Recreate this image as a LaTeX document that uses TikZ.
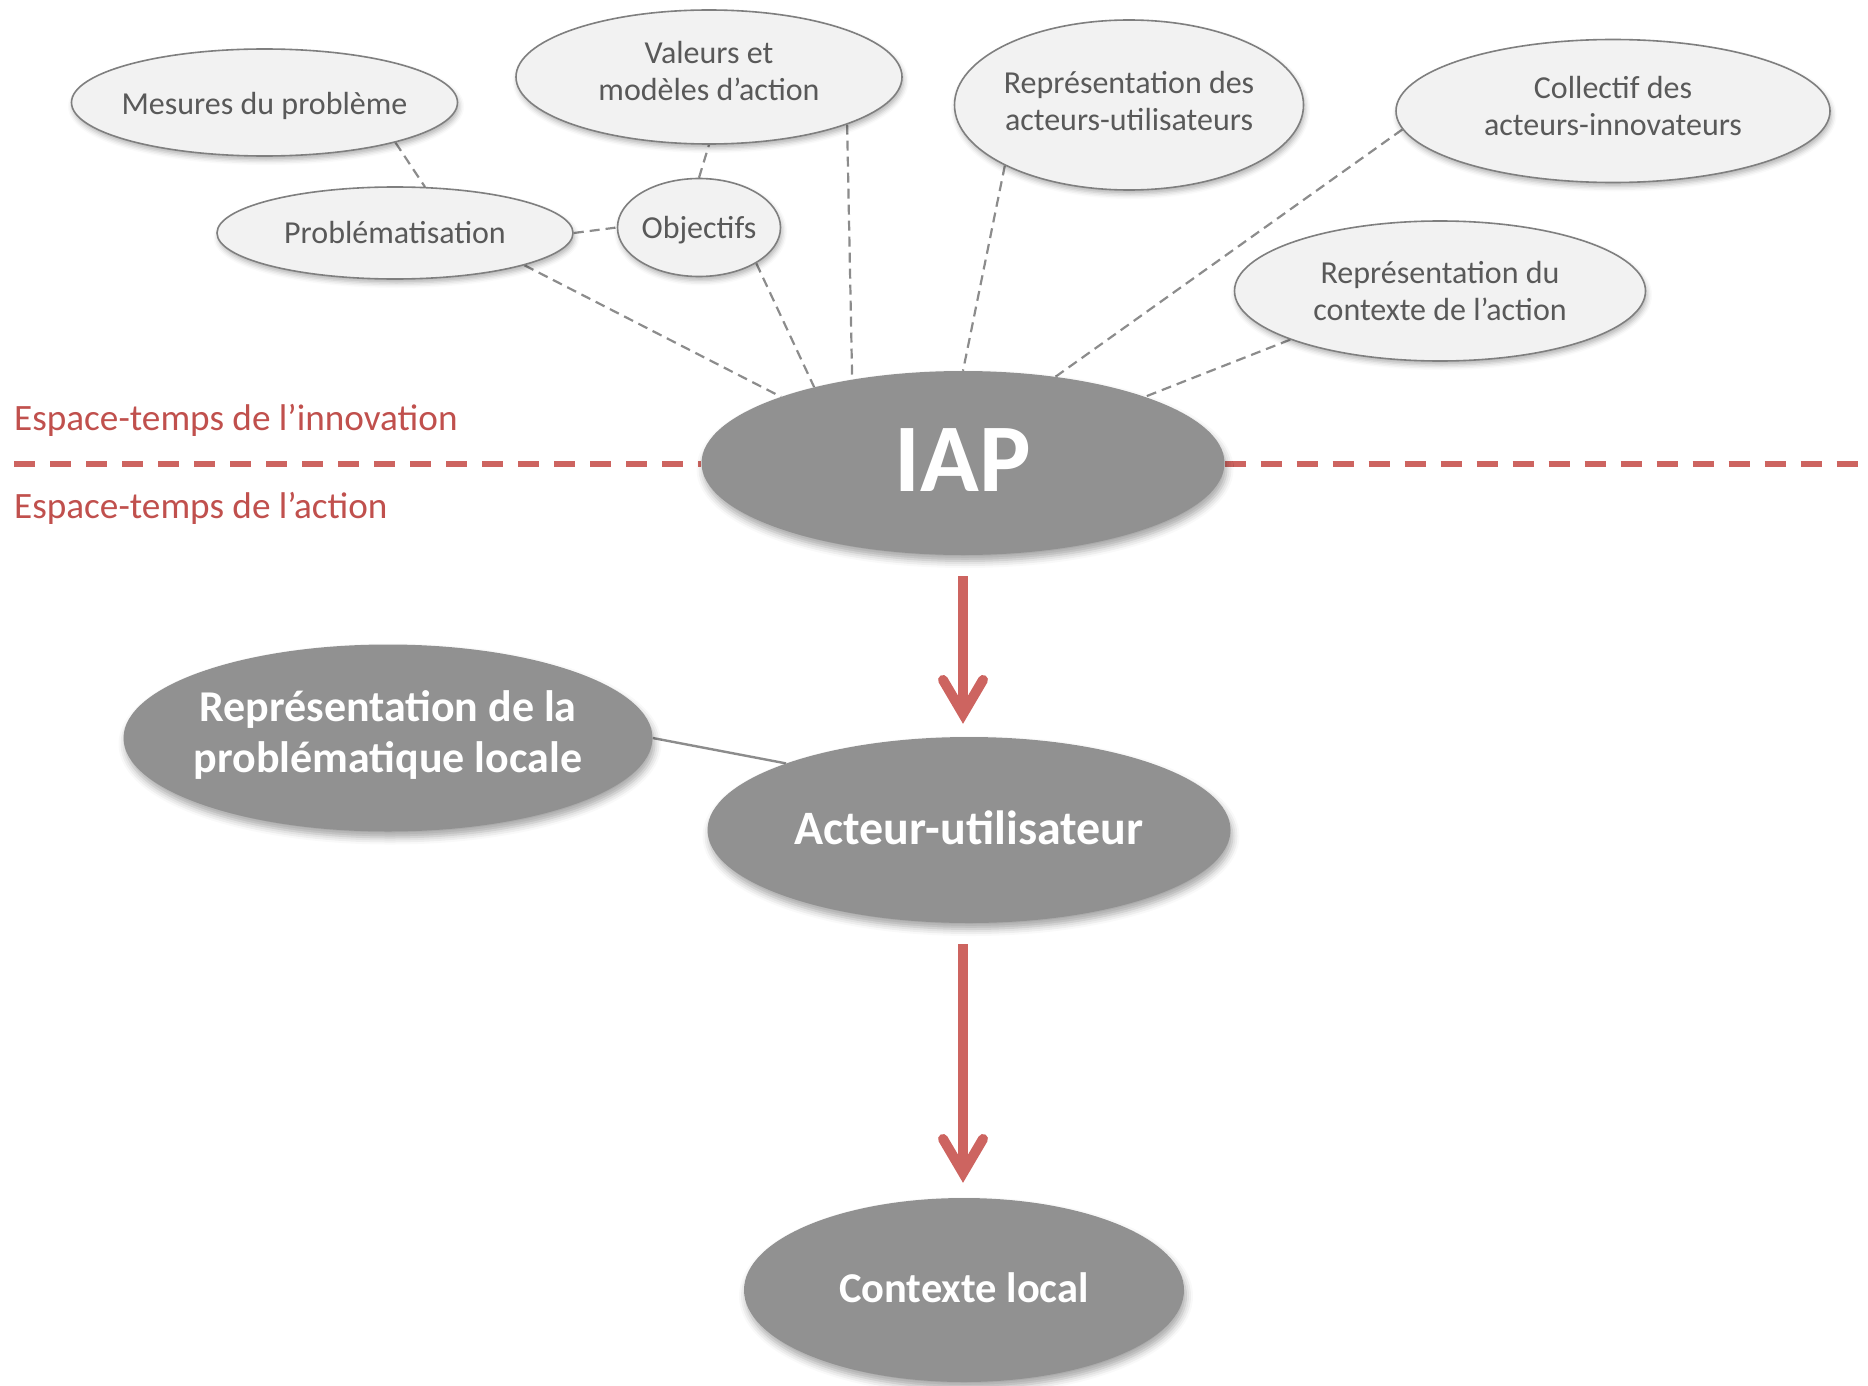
\documentclass[tikz,border=0pt]{standalone}
\usepackage{fontspec}
\setmainfont{Carlito}
\usetikzlibrary{shapes.geometric,arrows.meta,shadows.blur,backgrounds}

\definecolor{nodegray}{HTML}{919191}
\definecolor{lightfill}{HTML}{F2F2F2}
\definecolor{rimgray}{HTML}{7F7F7F}
\definecolor{textgray}{HTML}{595959}
\definecolor{linkgray}{HTML}{8C8C8C}
\definecolor{accentred}{HTML}{C0504D}
\definecolor{arrowred}{HTML}{CD6460}

\begin{document}
\begin{tikzpicture}[x=1pt,y=-1pt,
  idea/.style={ellipse, draw=rimgray, line width=1.6pt, fill=lightfill, inner sep=0pt,
    blur shadow={shadow xshift=1.5pt, shadow yshift=-4pt, shadow blur radius=5pt,
      shadow opacity=30}},
  ideatext/.style={text=textgray, align=center, inner sep=0pt,
    font=\fontsize{32}{37}\selectfont},
  core/.style={ellipse, fill=nodegray, inner sep=0pt,
    blur shadow={shadow xshift=2pt, shadow yshift=-6pt, shadow blur radius=7pt,
      shadow opacity=35}},
  coretext/.style={text=white, align=center, inner sep=0pt,
    font=\bfseries\fontsize{44}{51}\selectfont},
  spacelabel/.style={text=accentred, anchor=west, inner sep=0pt,
    font=\fontsize{37.2}{40}\selectfont},
  link/.style={draw=linkgray, line width=2.2pt, dash pattern=on 10pt off 6pt},
  border/.style={draw=arrowred, line width=6pt, dash pattern=on 21pt off 15pt},
  flow/.style={draw=arrowred, line width=10pt,
    -{Straight Barb[length=34pt, width=40pt, line cap=round, line join=miter]}},
]
\useasboundingbox (0,0) rectangle (1868,1386);

% satellite ideas of the innovation space
\node[idea, minimum width=386, minimum height=107] (mes) at (264.5,102.5) {};
\node[ideatext] (mes-t) at ([yshift=-3.5pt]mes) {Mesures du problème};

\node[idea, minimum width=386, minimum height=134] (val) at (709,77) {};
\node[ideatext] (val-t) at ([yshift=6pt]val) {Valeurs et\\modèles d’action};

\node[idea, minimum width=349, minimum height=170] (rau) at (1129,105) {};
\node[ideatext] (rau-t) at ([yshift=4pt]rau) {Représentation des\\acteurs-utilisateurs};

\node[idea, minimum width=434, minimum height=143] (col) at (1613,111) {};
\node[ideatext] (col-t) at ([yshift=5pt]col) {Collectif des\\acteurs-innovateurs};

\node[idea, minimum width=356, minimum height=92] (prob) at (395,233) {};
\node[ideatext] (prob-t) at (prob) {Problématisation};

\node[idea, minimum width=163, minimum height=98] (obj) at (699,227.5) {};
\node[ideatext] (obj-t) at ([yshift=-3pt]obj) {Objectifs};

\node[idea, minimum width=411, minimum height=140] (rca) at (1440,291) {};
\node[ideatext] (rca-t) at (rca) {Représentation du\\contexte de l’action};

% central chain
\node[core, minimum width=523, minimum height=184] (iap) at (963,463) {};
\node[coretext, font=\bfseries\fontsize{97}{100}\selectfont] (iap-t) at ([yshift=3pt]iap) {IAP};

\node[core, minimum width=529, minimum height=187] (rpl) at (388,738) {};
\node[coretext] (rpl-t) at ([yshift=3pt]rpl) {Représentation de la\\problématique locale};

\node[core, minimum width=523, minimum height=186] (au) at (969,830) {};
\node[coretext, font=\bfseries\fontsize{48}{51}\selectfont] (au-t) at ([yshift=2pt]au) {Acteur-utilisateur};

\node[core, minimum width=440, minimum height=184] (cl) at (964,1290) {};
\node[coretext, font=\bfseries\fontsize{42.5}{51}\selectfont] (cl-t) at ([yshift=2pt]cl) {Contexte local};

% the two space-time labels
\node[spacelabel] (inno) at (14,420.5) {Espace-temps de l’innovation};
\node[spacelabel] (act) at (14,508.5) {Espace-temps de l’action};

\coordinate (bordL) at (14,463.5);
\coordinate (bordR) at (1862,463.5);

\begin{scope}[on background layer]
  % boundary between the two space-times, interrupted by IAP
  \draw[border] (bordL) -- (bordL -| iap.west);
  \draw[border] (bordR -| iap.east) -- (bordR);
  % dashed relations
  \draw[link] (mes.343) -- (prob.57);
  \draw[link] (prob.east) -- (obj.west);
  \draw[link] (obj.north) -- (val.south);
  \draw[link] (prob.346) -- (iap.160);
  \draw[link] (obj.328) -- (iap.153);
  \draw[link] (val.341) -- (iap.143);
  \draw[link] (rau.206) -- (iap.north);
  \draw[link] (col.185) -- (iap.43);
  \draw[link] (rca.198) -- (iap.20);
  % solid relation
  \draw[draw=linkgray, line width=2.4pt] (rpl.east) -- (au.160);
\end{scope}

% flows downward, kept on the vertical through IAP
\draw[flow, shorten <=21pt, shorten >=13pt] (iap.south) -- (iap.south |- au.north);
\draw[flow, shorten <=21pt, shorten >=15pt] (iap.south |- au.south) -- (iap.south |- cl.north);
\end{tikzpicture}
\end{document}
